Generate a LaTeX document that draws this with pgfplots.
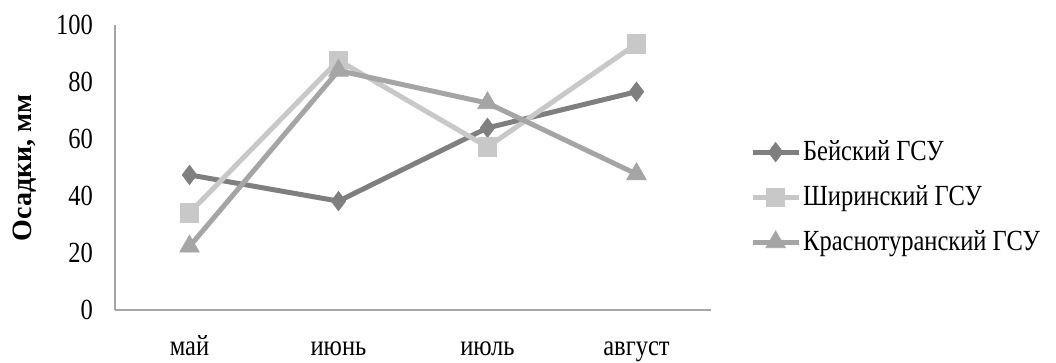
\documentclass[border=0pt]{standalone}
\usepackage{pgfplots}
\pgfplotsset{compat=1.18}
\usepackage{fontspec}
\setmainfont{Liberation Serif}
\newfontfamily\narrowserif[FakeStretch=0.84]{Liberation Serif}

\definecolor{seriesA}{HTML}{7F7F7F}
\definecolor{seriesB}{HTML}{C8C8C8}
\definecolor{seriesC}{HTML}{A5A5A5}
\definecolor{axisgray}{HTML}{A6A6A6}

\newcommand{\labelfont}{\narrowserif\fontsize{14.6}{17}\selectfont}

\begin{document}
\begin{tikzpicture}
\begin{axis}[
  at={(57.5pt,26.5pt)}, anchor=south west,
  scale only axis,
  width=298pt, height=142.5pt,
  xmin=-0.5, xmax=3.5,
  ymin=0, ymax=100,
  ytick={0,20,...,100},
  xtick={0,1,2,3},
  xticklabels={май,июнь,июль,август},
  axis x line*=bottom, axis y line*=left,
  axis line style={axisgray, line width=1pt, -},
  major tick length=0pt,
  /pgf/number format/assume math mode=true,
  tick label style={font=\labelfont},
  yticklabel style={xshift=-7.5pt},
  xticklabel style={anchor=base, yshift=-23pt},
  ylabel={\textbf{Осадки, мм}},
  ylabel style={font=\fontsize{14}{16}\selectfont,
    at={(axis description cs:-0.151,0.5)}, anchor=center},
  legend style={draw=none, fill=none, inner sep=0pt,
    at={(1.065,0.396)}, anchor=west,
    font=\labelfont, row sep=7pt,
    nodes={inner xsep=1pt},
    legend cell align=left},
  legend image code/.code={%
    \draw[#1, mark repeat=2, mark phase=2]
      plot coordinates {(0pt,0pt) (11.5pt,0pt) (23pt,0pt)};},
  every axis plot/.append style={line width=2.5pt},
]
\addplot[seriesA, mark=diamond*, mark size=4.8pt,
  mark options={solid, line width=0.4pt}]
  coordinates {(0,47.4) (1,38.2) (2,63.9) (3,76.6)};
\addlegendentry{Бейский ГСУ}
\addplot[seriesB, mark=square*, mark size=4.6pt,
  mark options={solid, line width=0.4pt}]
  coordinates {(0,34.1) (1,87.6) (2,57.2) (3,93.4)};
\addlegendentry{Ширинский ГСУ}
\addplot[seriesC, mark=triangle*, mark size=5.6pt,
  mark options={solid, line width=0.4pt}]
  coordinates {(0,22.3) (1,84.0) (2,72.6) (3,47.7)};
\addlegendentry{Краснотуранский ГСУ}
\end{axis}
\pgfresetboundingbox
\path (0,0) rectangle (528pt,181.5pt);
\end{tikzpicture}
\end{document}
